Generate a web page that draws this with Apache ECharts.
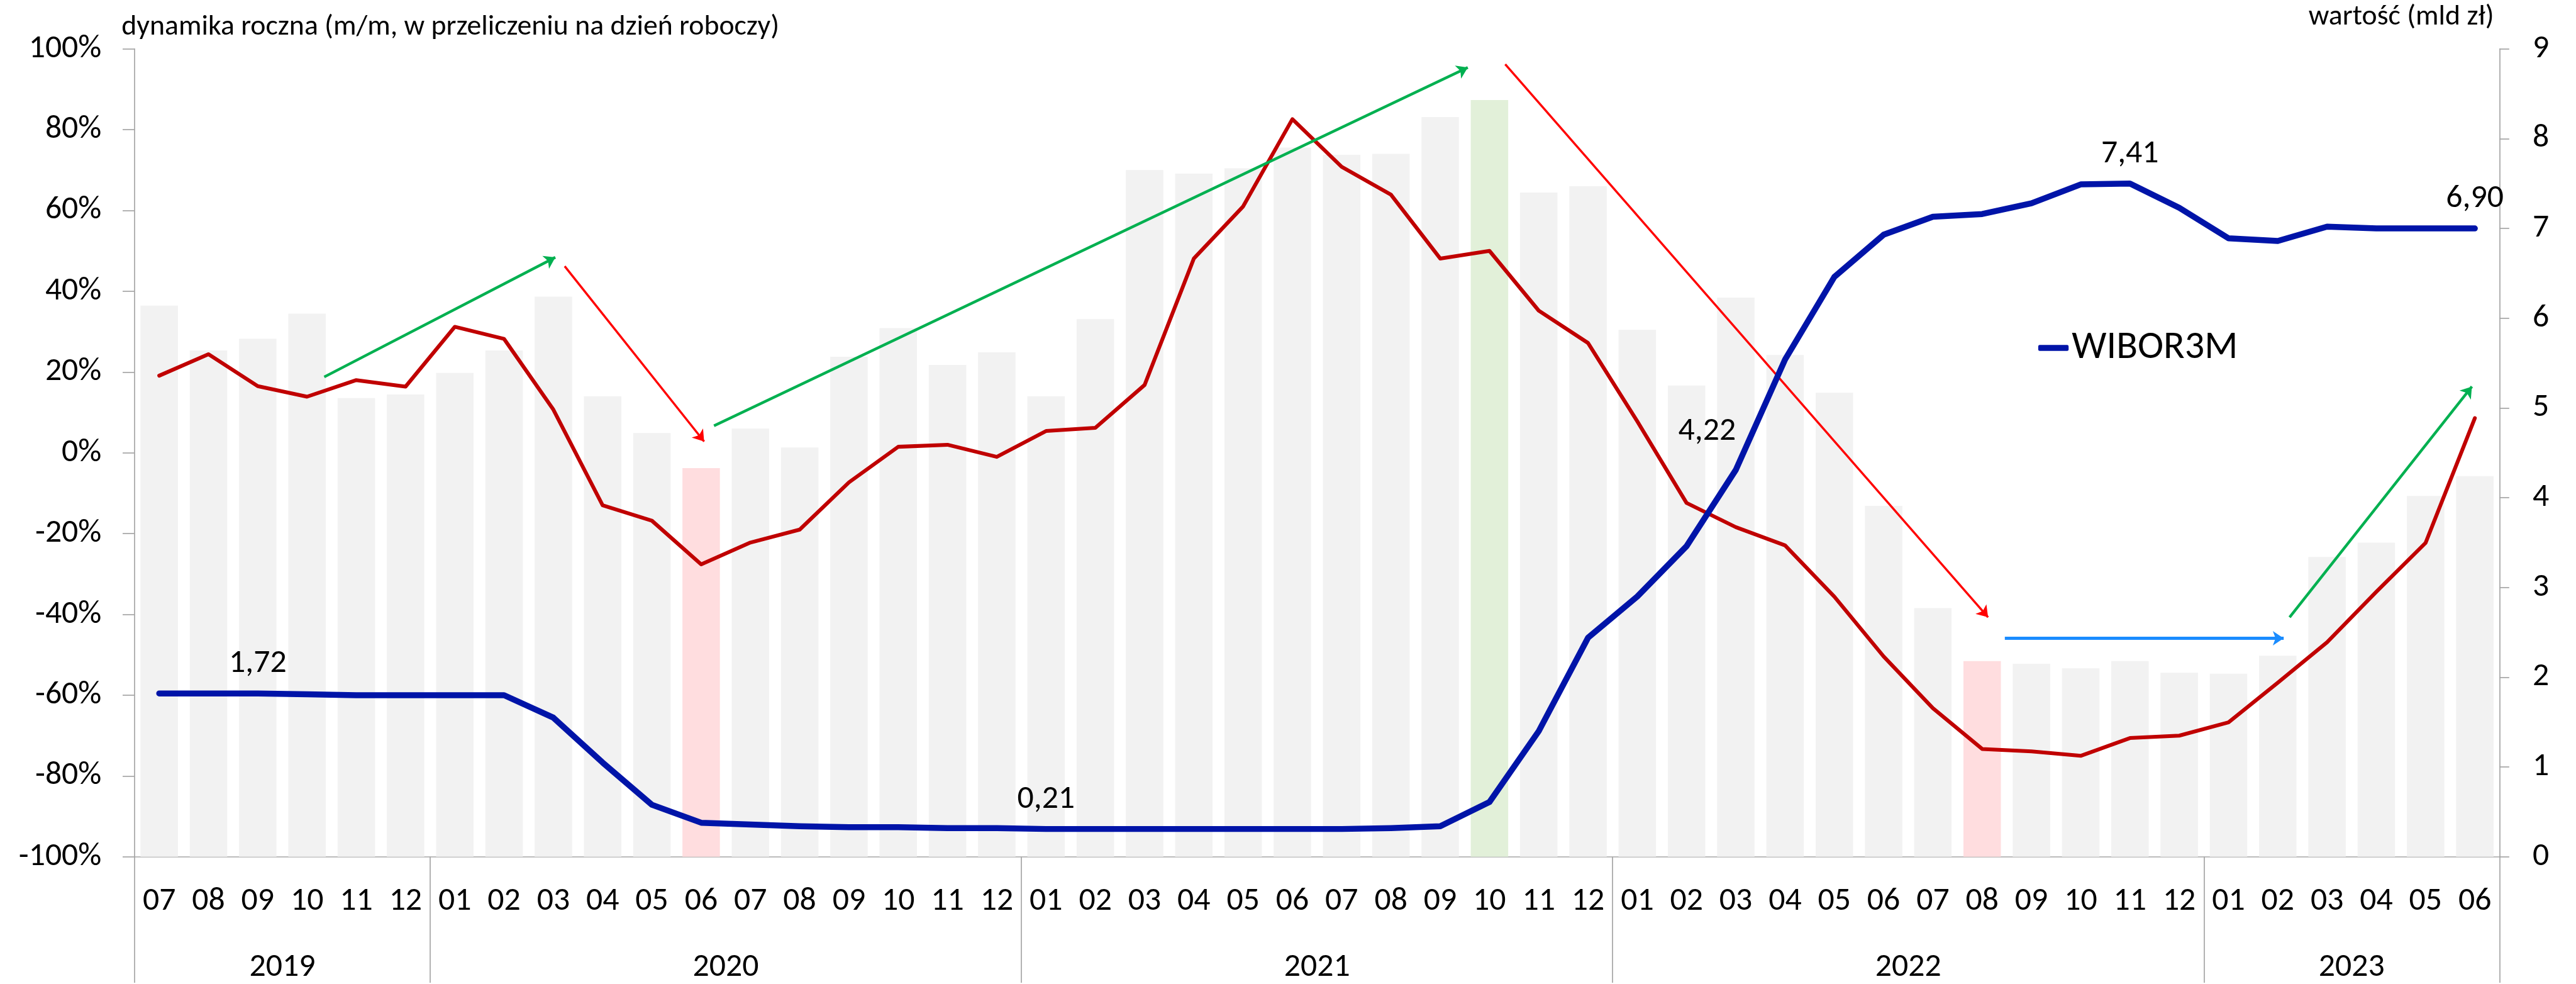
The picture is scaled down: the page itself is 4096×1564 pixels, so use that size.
<!DOCTYPE html>
<html lang="pl">
<head>
<meta charset="utf-8">
<title>WIBOR3M i dynamika roczna</title>
<script src="https://cdn.jsdelivr.net/npm/echarts@6.0.0/dist/echarts.min.js"></script>
<style>
  html, body { margin: 0; padding: 0; background: #fff; }
  #chart { width: 4096px; height: 1564px; }
</style>
</head>
<body>
<div id="chart"></div>
<script>
/* dane */
const months = [
  '07', '08', '09', '10', '11', '12',
  '01', '02', '03', '04', '05', '06', '07', '08', '09', '10', '11', '12',
  '01', '02', '03', '04', '05', '06', '07', '08', '09', '10', '11', '12',
  '01', '02', '03', '04', '05', '06', '07', '08', '09', '10', '11', '12',
  '01', '02', '03', '04', '05', '06'
]
const years = ['2019', '2020', '2021', '2022', '2023']
const yearLengths = [6, 12, 12, 12, 6]

// wartość (mld zł) - słupki, prawa oś
const wartosc = [
  6.14, 5.64, 5.77, 6.05, 5.11, 5.15,
  5.39, 5.64, 6.24, 5.13, 4.72, 4.33, 4.77, 4.56, 5.57, 5.89, 5.48, 5.62,
  5.13, 5.99, 7.65, 7.61, 7.67, 7.90, 7.82, 7.83, 8.24, 8.43, 7.40, 7.47,
  5.87, 5.25, 6.23, 5.59, 5.17, 3.91, 2.77, 2.18, 2.15, 2.10, 2.18, 2.05,
  2.04, 2.24, 3.34, 3.50, 4.02, 4.24
]

// dynamika roczna (%) - lewa oś
const dynamika = [
  19.1, 24.4, 16.5, 13.9, 18.0, 16.4,
  31.2, 28.2, 10.7, -13.0, -16.8, -27.6, -22.2, -19.0, -7.3, 1.5, 2.0, -1.0,
  5.4, 6.2, 16.8, 48.1, 61.0, 82.6, 70.8, 63.9, 48.1, 50.0, 35.2, 27.2,
  7.8, -12.4, -18.4, -22.9, -35.6, -50.4, -63.2, -73.3, -73.9, -75.0, -70.6, -70.0,
  -66.7, -56.9, -46.9, -34.4, -22.3, 8.6
]

// WIBOR3M - prawa oś
const wibor = [
  1.82, 1.82, 1.82, 1.81, 1.80, 1.80,
  1.80, 1.80, 1.55, 1.05, 0.58, 0.38, 0.36, 0.34, 0.33, 0.33, 0.32, 0.32,
  0.31, 0.31, 0.31, 0.31, 0.31, 0.31, 0.31, 0.32, 0.34, 0.61, 1.40, 2.44,
  2.90, 3.46, 4.31, 5.54, 6.46, 6.93, 7.13, 7.16, 7.28, 7.49, 7.50, 7.23,
  6.89, 6.86, 7.02, 7.00, 7.00, 7.00
]
const wiborLabels = { 2: '1,72', 18: '0,21', 32: '4,22', 40: '7,41', 47: '6,90' }

// wyróżnione miesiące (indeksy)
const pinkMonths = [11, 37]
const greenMonths = [27]

// strzałki: [pozycja w miesiącach od lewej krawędzi, % na lewej osi]
const arrows = [
  { from: [3.85, 18.8], to: [8.54, 48.4], kind: 'up' },
  { from: [8.73, 46.2], to: [11.56, 2.8], kind: 'down' },
  { from: [11.76, 6.7], to: [27.06, 95.4], kind: 'up' },
  { from: [27.82, 96.2], to: [37.62, -40.7], kind: 'down' },
  { from: [37.96, -45.9], to: [43.62, -45.9], kind: 'flat' },
  { from: [43.74, -40.7], to: [47.44, 16.4], kind: 'up' }
]

/* wygląd */
const S = 4096 / 4747
const FONT = 'Carlito, "Liberation Sans Narrow", "DejaVu Sans Condensed", "Open Sans", sans-serif'
const AXIS_GRAY = '#A6A6A6'
const RED = '#C00000'
const BLUE = '#0014A8'
const arrowStyle = {
  up: { color: '#00B050', width: 5 * S },
  down: { color: '#FF0000', width: 4 * S },
  flat: { color: '#1A8CFF', width: 6 * S }
}

// granice i środki lat na osi lat
const yearBounds = [0]
yearLengths.forEach(n => yearBounds.push(yearBounds[yearBounds.length - 1] + n))
const yearMids = years.map((y, i) => (yearBounds[i] + yearBounds[i + 1]) / 2)

const axisLineStyle = { color: AXIS_GRAY, width: 2 * S }
const tickFont = { fontSize: 60 * S, color: '#000', fontFamily: FONT }

const myChart = echarts.init(document.getElementById('chart'))

const option = {
  animation: false,
  textStyle: { fontFamily: FONT, color: '#000' },
  grid: {
    left: 248 * S,
    right: 141 * S,
    top: 90 * S,
    bottom: 232 * S
  },

  title: [
    {
      text: 'dynamika roczna (m/m, w przeliczeniu na dzień roboczy)',
      left: 224 * S,
      top: 24 * S,
      padding: 0,
      textStyle: { fontSize: 53 * S, fontWeight: 'normal', color: '#000', fontFamily: FONT }
    },
    {
      text: 'wartość (mld zł)',
      right: 151 * S,
      top: 5 * S,
      padding: 0,
      textStyle: { fontSize: 53 * S, fontWeight: 'normal', color: '#000', fontFamily: FONT }
    }
  ],

  legend: {
    data: ['WIBOR3M'],
    left: 3756 * S,
    top: 605 * S,
    padding: 0,
    icon: 'roundRect',
    itemWidth: 56 * S,
    itemHeight: 11 * S,
    textStyle: { fontSize: 72 * S, color: '#000', fontFamily: FONT }
  },

  xAxis: [
    // miesiące
    {
      type: 'category',
      data: months,
      position: 'bottom',
      axisLine: { onZero: false, lineStyle: axisLineStyle },
      axisTick: { interval: 0, length: 121 * S, lineStyle: axisLineStyle },
      axisLabel: { interval: 0, margin: 52 * S, ...tickFont },
      splitLine: { show: false }
    },
    // lata (i pomocnicza oś dla strzałek)
    {
      type: 'value',
      min: 0,
      max: 48,
      position: 'bottom',
      axisLine: { show: false, onZero: false },
      splitLine: { show: false },
      axisTick: {
        show: true,
        customValues: yearBounds,
        length: 232 * S,
        lineStyle: axisLineStyle
      },
      axisLabel: {
        customValues: yearMids,
        formatter: v => years[yearMids.indexOf(v)] || '',
        margin: 174 * S,
        ...tickFont
      }
    }
  ],

  yAxis: [
    {
      type: 'value',
      min: -100,
      max: 100,
      interval: 20,
      position: 'left',
      axisLine: { show: true, onZero: false, lineStyle: axisLineStyle },
      axisTick: { show: true, length: 22 * S, lineStyle: axisLineStyle },
      splitLine: { show: false },
      axisLabel: { formatter: '{value}%', margin: 61 * S, ...tickFont }
    },
    {
      type: 'value',
      min: 0,
      max: 9,
      interval: 1,
      position: 'right',
      axisLine: { show: true, onZero: false, lineStyle: axisLineStyle },
      axisTick: { show: true, length: 18 * S, lineStyle: axisLineStyle },
      splitLine: { show: false },
      axisLabel: { margin: 61 * S, ...tickFont }
    }
  ],

  series: [
    {
      name: 'wartość',
      type: 'bar',
      xAxisIndex: 0,
      yAxisIndex: 1,
      barCategoryGap: '24%',
      z: 1,
      data: wartosc.map((v, i) => ({
        value: v,
        itemStyle: {
          color: pinkMonths.includes(i) ? '#FFDDDF' : greenMonths.includes(i) ? '#E2F0D9' : '#F2F2F2'
        }
      }))
    },
    {
      name: 'dynamika roczna',
      type: 'line',
      xAxisIndex: 0,
      yAxisIndex: 0,
      showSymbol: false,
      z: 3,
      itemStyle: { color: RED },
      lineStyle: { color: RED, width: 7 * S, cap: 'round', join: 'round' },
      data: dynamika
    },
    {
      name: 'strzałki',
      type: 'lines',
      coordinateSystem: 'cartesian2d',
      xAxisIndex: 1,
      yAxisIndex: 0,
      symbol: ['none', 'arrow'],
      symbolSize: 20 * S,
      silent: true,
      z: 4,
      data: arrows.map(a => ({
        coords: [a.from, a.to],
        lineStyle: { ...arrowStyle[a.kind], opacity: 1, curveness: 0 }
      }))
    },
    {
      name: 'WIBOR3M',
      type: 'line',
      xAxisIndex: 0,
      yAxisIndex: 1,
      showSymbol: true,
      symbol: 'circle',
      symbolSize: 0,
      z: 5,
      itemStyle: { color: BLUE },
      lineStyle: { color: BLUE, width: 11 * S, cap: 'round', join: 'round' },
      label: { show: false },
      data: wibor.map((v, i) => wiborLabels[i]
        ? {
            value: v,
            label: {
              show: true,
              formatter: wiborLabels[i],
              position: 'top',
              distance: 24 * S,
              offset: i === 32 ? [-53 * S, -16 * S] : [0, 0],
              ...tickFont
            }
          }
        : v)
    }
  ]
}

myChart.setOption(option)
</script>
</body>
</html>
